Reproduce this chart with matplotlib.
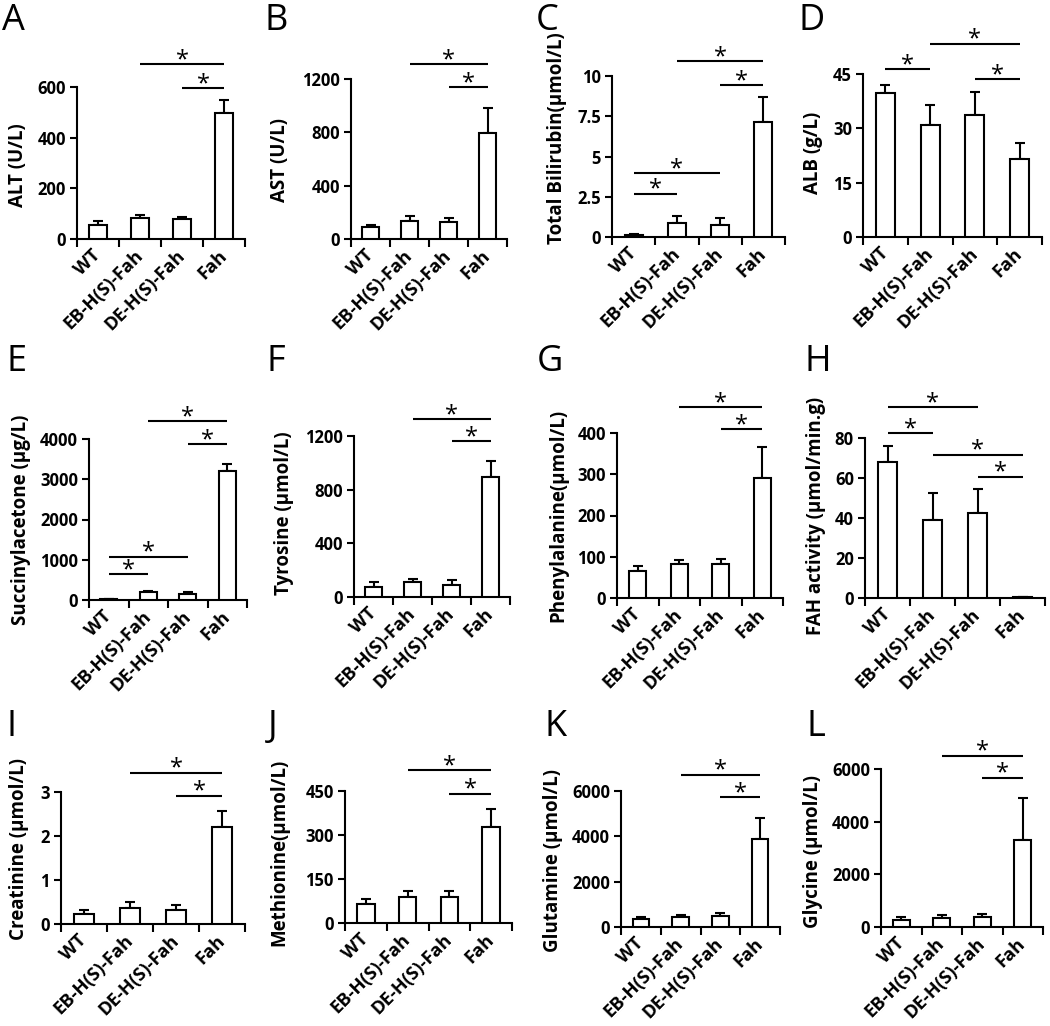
import matplotlib
matplotlib.use('Agg')
import matplotlib.pyplot as plt
from matplotlib import font_manager
import numpy as np


def pick_font(cands):
    avail = {}
    for f in font_manager.fontManager.ttflist:
        w = f.weight if isinstance(f.weight, int) else (700 if 'bold' in str(f.weight).lower() else 400)
        avail.setdefault(f.name, set()).add(w)
    for c in cands:
        if c in avail and any(w >= 600 for w in avail[c]):
            return c
    return 'DejaVu Sans'


FONT = pick_font(['Open Sans', 'Noto Sans', 'Lato', 'Roboto'])
plt.rcParams['font.family'] = [FONT, 'DejaVu Sans']
plt.rcParams['font.weight'] = 'bold'

# ---------------- data ----------------
groups = ['WT', 'EB-H(S)-Fah', 'DE-H(S)-Fah', 'Fah']

alt_mean = [55, 81, 77, 497]
alt_err = [16, 13, 10, 53]
ast_mean = [88, 138, 128, 795]
ast_err = [20, 32, 30, 190]
tbil_mean = [0.12, 0.87, 0.76, 7.17]
tbil_err = [0.05, 0.41, 0.42, 1.55]
alb_mean = [39.7, 30.8, 33.7, 21.6]
alb_err = [2.3, 5.7, 6.2, 4.3]
sa_mean = [20, 190, 158, 3212]
sa_err = [5, 30, 30, 165]
tyr_mean = [75, 109, 92, 894]
tyr_err = [37, 28, 32, 120]
phe_mean = [65, 82, 82, 292]
phe_err = [12, 10, 13, 75]
fah_mean = [68, 39, 42.7, 0.3]
fah_err = [7.8, 13.6, 11.7, 0.1]
cre_mean = [0.22, 0.37, 0.32, 2.21]
cre_err = [0.09, 0.13, 0.12, 0.36]
met_mean = [66, 90, 88, 328]
met_err = [15, 20, 22, 62]
gln_mean = [350, 425, 485, 3865]
gln_err = [110, 115, 130, 960]
gly_mean = [280, 340, 370, 3300]
gly_err = [100, 125, 140, 1585]

# y-axis ticks and labels
alt_ticks = [0, 200, 400, 600]
ast_ticks = [0, 400, 800, 1200]
tbil_ticks = [0, 2.5, 5, 7.5, 10]
tbil_ticklabels = ['0', '2.5', '5', '7.5', '10']
alb_ticks = [0, 15, 30, 45]
sa_ticks = [0, 1000, 2000, 3000, 4000]
tyr_ticks = [0, 400, 800, 1200]
phe_ticks = [0, 100, 200, 300, 400]
fah_ticks = [0, 20, 40, 60, 80]
cre_ticks = [0, 1, 2, 3]
met_ticks = [0, 150, 300, 450]
gln_ticks = [0, 2000, 4000, 6000]
gly_ticks = [0, 2000, 4000, 6000]

# significance comparisons: (group i, group j, bar height)
alt_sig = [(1, 3, 691), (2, 3, 596)]
ast_sig = [(1, 3, 1312), (2, 3, 1137)]
tbil_sig = [(0, 1, 2.7), (0, 2, 3.97), (2, 3, 9.44), (1, 3, 10.93)]
alb_sig = [(0, 1, 46.4), (1, 3, 53.4), (2, 3, 43.6)]
sa_sig = [(0, 1, 647), (0, 2, 1079), (2, 3, 3876), (1, 3, 4440)]
tyr_sig = [(1, 3, 1324), (2, 3, 1163)]
phe_sig = [(1, 3, 462), (2, 3, 410)]
fah_sig = [(0, 2, 95.4), (0, 1, 82.5), (1, 3, 71.7), (2, 3, 60.6)]
cre_sig = [(1, 3, 3.44), (2, 3, 2.92)]
met_sig = [(1, 3, 520), (2, 3, 441)]
gln_sig = [(1, 3, 6717), (2, 3, 5737)]
gly_sig = [(1, 3, 6508), (2, 3, 5670)]

ylabels = ['ALT (U/L)', 'AST (U/L)', 'Total Bilirubin(\u00b5mol/L)', 'ALB (g/L)',
           'Succinylacetone (\u00b5g/L)', 'Tyrosine (\u00b5mol/L)', 'Phenylalanine(\u00b5mol/L)',
           'FAH activity (\u00b5mol/min.g)',
           'Creatinine (\u00b5mol/L)', 'Methionine(\u00b5mol/L)', 'Glutamine (\u00b5mol/L)',
           'Glycine (\u00b5mol/L)']
letters = list('ABCDEFGHIJKL')

# ---------------- layout (figure pixels) ----------------
W, H = 1050, 1026
boxes = [(77, 245, 87, 239), (351, 507, 79, 239), (612, 785, 76, 237), (863, 1042, 74, 237),
         (89, 247, 439, 600), (354, 510, 436, 597), (617, 783, 433, 598), (865, 1045, 438, 598),
         (61, 245, 792, 924), (345, 512, 791, 923), (621, 780, 791, 927), (881, 1043, 769, 927)]
label_pos = [(28, 165), (290, 160), (567, 138), (823, 153),
             (31, 520), (294, 513), (568, 515), (826, 516),
             (29, 849), (289, 852), (563, 861), (823, 852)]
letter_pos = [(2, 3), (264, 3), (536, 3), (799, 3),
              (6, 344), (266, 344), (537, 344), (804, 344),
              (6, 709), (268, 709), (544, 709), (806, 709)]

panels = [
    (alt_mean, alt_err, alt_ticks, None, alt_sig),
    (ast_mean, ast_err, ast_ticks, None, ast_sig),
    (tbil_mean, tbil_err, tbil_ticks, tbil_ticklabels, tbil_sig),
    (alb_mean, alb_err, alb_ticks, None, alb_sig),
    (sa_mean, sa_err, sa_ticks, None, sa_sig),
    (tyr_mean, tyr_err, tyr_ticks, None, tyr_sig),
    (phe_mean, phe_err, phe_ticks, None, phe_sig),
    (fah_mean, fah_err, fah_ticks, None, fah_sig),
    (cre_mean, cre_err, cre_ticks, None, cre_sig),
    (met_mean, met_err, met_ticks, None, met_sig),
    (gln_mean, gln_err, gln_ticks, None, gln_sig),
    (gly_mean, gly_err, gly_ticks, None, gly_sig),
]

fig = plt.figure(figsize=(W / 100, H / 100), dpi=100)
LW = 1.5

for k, (means, errs, ticks, tlabels, sigs) in enumerate(panels):
    x0, x1, yt, yb = boxes[k]
    ax = fig.add_axes([x0 / W, 1 - yb / H, (x1 - x0) / W, (yb - yt) / H])
    xc = np.arange(len(groups)) + 0.5
    ax.bar(xc, means, width=0.42, color='white', edgecolor='black', linewidth=LW, zorder=3)
    ax.errorbar(xc, means, yerr=[np.zeros(len(means)), errs], fmt='none', ecolor='black',
                elinewidth=LW, capsize=3.5, capthick=LW, zorder=2)
    ax.set_xlim(0, len(groups))
    ax.set_ylim(ticks[0], ticks[-1])
    for s in ['top', 'right']:
        ax.spines[s].set_visible(False)
    for s in ['left', 'bottom']:
        ax.spines[s].set_linewidth(LW)
    ax.set_yticks(ticks)
    if tlabels is not None:
        ax.set_yticklabels(tlabels)
    ax.set_xticks(np.arange(len(groups) + 1))
    ax.set_xticklabels([])
    ax.set_xticks(xc, minor=True)
    ax.set_xticklabels(groups, minor=True, rotation=45, ha='right', va='center',
                       rotation_mode='anchor', fontsize=13.2, fontweight='bold')
    ax.tick_params(axis='x', which='major', direction='out', length=6, width=LW)
    ax.tick_params(axis='x', which='minor', length=0, pad=10)
    ax.tick_params(axis='y', direction='out', length=5, width=LW, labelsize=12, pad=3)
    for lab in ax.get_yticklabels():
        lab.set_fontweight('bold')
    # y label
    lx, ly = label_pos[k]
    ax.set_ylabel(ylabels[k], fontsize=13.5, fontweight='bold')
    ax.yaxis.set_label_coords(lx / W, 1 - ly / H, transform=fig.transFigure)
    # significance bars
    for (i, j, h) in sigs:
        ax.plot([i + 0.5, j + 0.5], [h, h], color='black', lw=LW, clip_on=False,
                solid_capstyle='butt')
        ax.annotate('*', xy=((i + j) / 2 + 0.5, h), xytext=(0, -1.5),
                    textcoords='offset points', ha='center', va='baseline',
                    fontsize=17, fontweight='normal', annotation_clip=False)
    # panel letter
    px, py = letter_pos[k]
    fig.text(px / W, 1 - py / H, letters[k], fontsize=26, fontweight='normal',
             ha='left', va='top')

fig.savefig('out.png', dpi=100, facecolor='white')
